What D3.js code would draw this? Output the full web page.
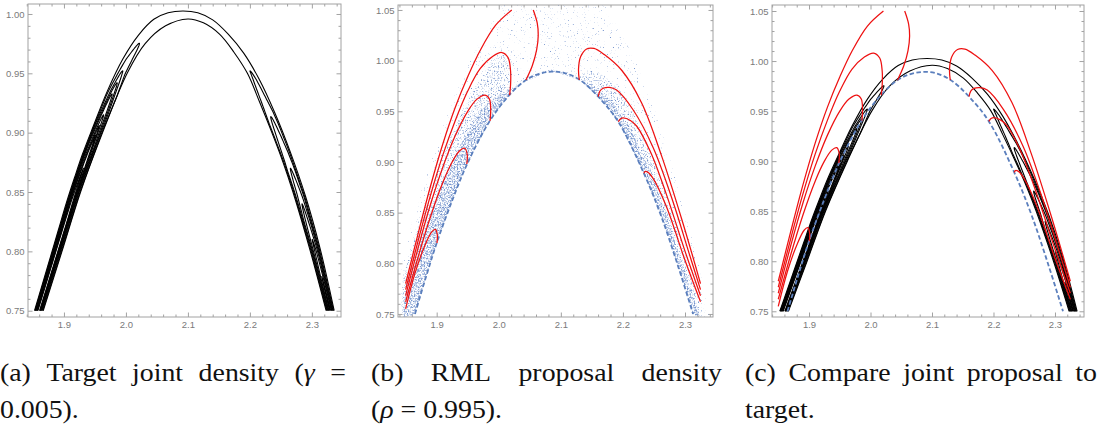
<!DOCTYPE html>
<html>
<head>
<meta charset="utf-8">
<script src="https://cdn.jsdelivr.net/npm/d3@7/dist/d3.min.js"></script>
<style>
  html, body { margin: 0; padding: 0; background: #fff; }
  svg { display: block; }
</style>
</head>
<body>
<svg id="fig" width="1100" height="426"></svg>
<script>
// ---------- axis ticks ----------
const xTicks = [1.9, 2.0, 2.1, 2.2, 2.3];
const yTicksTarget = [0.75, 0.80, 0.85, 0.90, 0.95, 1.00];
const yTicksProposal = [0.75, 0.80, 0.85, 0.90, 0.95, 1.00, 1.05];

// ---------- target joint density ----------
// outermost contour: upper edge of the ridge (left foot -> crest -> right foot)
const targetOuter = [
  [1.8525, 0.750], [1.865, 0.772], [1.878, 0.795], [1.891, 0.818], [1.904, 0.841],
  [1.917, 0.862], [1.930, 0.882], [1.947, 0.905], [1.970, 0.935], [1.995, 0.962],
  [2.020, 0.982], [2.045, 0.9955], [2.068, 1.001], [2.092, 1.0025], [2.116, 1.001],
  [2.140, 0.995], [2.165, 0.983], [2.190, 0.967], [2.215, 0.945], [2.240, 0.917],
  [2.265, 0.884], [2.290, 0.846], [2.313, 0.803], [2.336, 0.750]
];
// outermost contour: lower edge of the ridge
const targetInner = [
  [1.8665, 0.750], [1.8968, 0.800], [1.9268, 0.850], [1.9623, 0.900], [2.002, 0.950],
  [2.031, 0.975], [2.064, 0.990], [2.100, 0.9958], [2.125, 0.9925], [2.151, 0.983],
  [2.174, 0.968], [2.196, 0.950], [2.2155, 0.926], [2.2355, 0.900], [2.2535, 0.875],
  [2.2695, 0.850], [2.2976, 0.800], [2.323, 0.750]
];
// higher contour levels, nested inside the ridge on each limb:
// tip height, centre and half-width as fractions across the ridge (0 = upper edge, 1 = lower edge)
const targetTipsLeft   = [0.9753, 0.952, 0.942, 0.9326, 0.915, 0.906, 0.898, 0.870];
const targetCentreLeft = [0.50, 0.48, 0.48, 0.47, 0.47, 0.48, 0.48, 0.49];
const targetHalfLeft   = [0.44, 0.38, 0.33, 0.28, 0.23, 0.18, 0.14, 0.10];
const targetTipsRight   = [0.952, 0.9135, 0.870, 0.840, 0.810, 0.7787];
const targetCentreRight = [0.50, 0.50, 0.50, 0.50, 0.50, 0.50];
const targetHalfRight   = [0.42, 0.35, 0.28, 0.21, 0.15, 0.09];

// ---------- RML proposal density ----------
const proposalL1 = [[1.850,0.780],[1.870,0.829],[1.890,0.876],[1.910,0.918],[1.930,0.954],[1.950,0.984],[1.970,1.010],[1.995,1.035],[2.021,1.050]];
const proposalL2 = [[1.850,0.774],[1.870,0.822],[1.890,0.867],[1.910,0.907],[1.930,0.941],[1.950,0.970],[1.970,0.992],[1.990,1.004],[2.005,1.008],[2.015,1.003],[2.019,0.990],[2.019,0.976],[2.0175,0.966]];
const proposalL3 = [[1.850,0.768],[1.870,0.815],[1.890,0.858],[1.910,0.895],[1.930,0.926],[1.950,0.950],[1.965,0.962],[1.978,0.966],[1.985,0.962],[1.987,0.952],[1.986,0.9405]];
const proposalL4 = [[1.850,0.762],[1.870,0.806],[1.890,0.846],[1.910,0.880],[1.925,0.900],[1.937,0.911],[1.945,0.9135],[1.949,0.908],[1.9485,0.898]];
const proposalL5 = [[1.850,0.755],[1.865,0.790],[1.880,0.816],[1.892,0.831],[1.898,0.8335],[1.901,0.828],[1.9005,0.820]];
const proposalTop = [[2.0556,1.050],[2.062,1.037],[2.0636,1.025],[2.061,1.0105],[2.054,0.995],[2.0438,0.9809]];
const proposalR1 = [[2.1297,0.9809],[2.1285,0.992],[2.132,1.004],[2.1415,1.0115],[2.1535,1.012],[2.170,1.006],[2.198,0.9905],[2.230,0.9585],[2.262,0.9065],[2.295,0.843],[2.325,0.780]];
const proposalR2 = [[2.1603,0.9644],[2.163,0.970],[2.1683,0.9727],[2.178,0.9735],[2.1898,0.971],[2.2166,0.9513],[2.2488,0.914],[2.280,0.862],[2.305,0.813],[2.325,0.774]];
const proposalR3 = [[2.1925,0.9397],[2.196,0.9425],[2.2005,0.9435],[2.212,0.941],[2.222,0.9355],[2.245,0.909],[2.270,0.868],[2.300,0.812],[2.325,0.768]];
const proposalR4 = [[2.2338,0.8888],[2.2355,0.8905],[2.240,0.890],[2.2488,0.8835],[2.270,0.856],[2.300,0.803],[2.325,0.762]];
const proposalContours = [proposalL1, proposalL2, proposalL3, proposalL4, proposalL5, proposalTop, proposalR1, proposalR2, proposalR3, proposalR4];

// lower boundary of the proposal samples (dashed)
const proposalBoundary = [
  [1.865,0.750],[1.883,0.787],[1.900,0.820],[1.925,0.862],[1.9483,0.897],[1.9847,0.9397],
  [2.0169,0.966],[2.0438,0.9809],[2.065,0.987],[2.0852,0.9891],[2.105,0.988],[2.1308,0.9809],
  [2.1603,0.9644],[2.1925,0.9397],[2.2338,0.8888],[2.262,0.846],[2.290,0.795],[2.313,0.750]
];

// extent of the proposal samples at three densities (upper edge; the lower edge is the boundary above)
const samplesSparse = [[1.842,0.745],[1.842,0.800],[1.860,0.840],[1.885,0.890],[1.910,0.935],[1.935,0.975],[1.960,1.008],[1.985,1.035],[2.000,1.056],[2.170,1.056],[2.195,1.030],[2.225,0.995],[2.252,0.950],[2.278,0.900],[2.302,0.845],[2.322,0.800],[2.340,0.745]];
const samplesMedium = [[1.843,0.745],[1.845,0.785],[1.865,0.826],[1.890,0.872],[1.915,0.913],[1.940,0.948],[1.965,0.978],[1.990,1.000],[2.008,1.006],[2.018,0.992],[2.019,0.967],[2.040,0.983],[2.085,0.9915],[2.130,0.984],[2.150,0.990],[2.170,0.985],[2.195,0.970],[2.220,0.945],[2.245,0.910],[2.268,0.870],[2.292,0.825],[2.312,0.785],[2.330,0.745]];
const samplesDense = [[1.845,0.745],[1.850,0.772],[1.870,0.814],[1.895,0.860],[1.920,0.895],[1.945,0.925],[1.970,0.950],[1.990,0.962],[2.020,0.973],[2.085,0.9905],[2.150,0.976],[2.180,0.961],[2.210,0.935],[2.240,0.897],[2.265,0.857],[2.290,0.810],[2.312,0.770],[2.325,0.745]];

// ---------- captions ----------
const captionA = [["(a)", "Target", "joint", "density", "(γ", "="], "0.005)."];
const captionB = [["(b)", "RML", "proposal", "density"], "(ρ = 0.995)."];
const captionC = [["(c)", "Compare", "joint", "proposal", "to"], "target."];

// ---------- drawing ----------
const fig = d3.select("#fig");
const defs = fig.append("defs");

const FRAME = "#a2a2a2", LABEL = "#7a7a7a";
const RED = "#ee1111", BLUE = "#5b7fbd";

const xMinor = d3.range(92, 118).filter(i => i % 5 !== 0).map(i => i / 50);
const yMinor = d3.range(74, 106).filter(i => i % 5 !== 0).map(i => i / 100);

// speckle textures used to render the sample cloud
function addSpeckle(id, seed, threshold, gain) {
  const f = defs.append("filter").attr("id", id)
    .attr("x", 0).attr("y", 0).attr("width", 1).attr("height", 1)
    .attr("color-interpolation-filters", "sRGB");
  f.append("feTurbulence").attr("type", "fractalNoise").attr("baseFrequency", 0.7)
    .attr("numOctaves", 2).attr("seed", seed).attr("result", "noise");
  f.append("feColorMatrix").attr("in", "noise").attr("type", "matrix")
    .attr("values", `0 0 0 0 0.47  0 0 0 0 0.59  0 0 0 0 0.81  ${gain} 0 0 0 ${-gain * threshold}`)
    .attr("result", "dots");
  f.append("feComposite").attr("in", "dots").attr("in2", "SourceGraphic").attr("operator", "in");
}
addSpeckle("speckle-sparse", 7, 0.67, 5);
addSpeckle("speckle-medium", 19, 0.54, 4);
addSpeckle("speckle-dense", 31, 0.45, 3.5);

function limb(arc, side) {
  const peak = d3.maxIndex(arc, d => d[1]);
  return side === "left" ? arc.slice(0, peak + 1) : arc.slice(peak).reverse();
}
function xAt(pts, yv) {
  for (let i = 0; i < pts.length - 1; i++) {
    const [x0, y0] = pts[i], [x1, y1] = pts[i + 1];
    if (yv >= y0 && yv <= y1) return x0 + (x1 - x0) * (yv - y0) / (y1 - y0);
  }
  return yv < pts[0][1] ? pts[0][0] : pts[pts.length - 1][0];
}
// one nested contour level: a thin loop running along the ridge limb up to its tip
function levelLoop(tip, centre, half, side) {
  const outer = limb(targetOuter, side), inner = limb(targetInner, side);
  const base = 0.75, taper = 0.045, n = 70;
  const a = [], b = [];
  for (let i = n; i >= 0; i--) {
    const u = i / n;
    const yv = tip - (tip - base) * u * u;
    const w = half * Math.sqrt(Math.min(1, Math.max(0, tip - yv) / taper));
    const xo = xAt(outer, yv), xi = xAt(inner, yv);
    a.push([xo + (centre - w) * (xi - xo), yv]);
    b.push([xo + (centre + w) * (xi - xo), yv]);
  }
  return a.concat(b.reverse());
}
const targetLevels = [
  ...targetTipsLeft.map((t, i) => levelLoop(t, targetCentreLeft[i], targetHalfLeft[i], "left")),
  ...targetTipsRight.map((t, i) => levelLoop(t, targetCentreRight[i], targetHalfRight[i], "right"))
];

const panels = [
  { id: "a", frame: { l: 28, r: 341, t: 4, b: 317 }, xDomain: [1.842, 2.347], yDomain: [0.7447, 1.0084],
    yTicks: yTicksTarget, samples: false, target: true, proposal: false },
  { id: "b", frame: { l: 398, r: 713, t: 5, b: 317 }, xDomain: [1.8377, 2.3451], yDomain: [0.747, 1.0549],
    yTicks: yTicksProposal, samples: true, target: false, proposal: true },
  { id: "c", frame: { l: 772, r: 1084, t: 5, b: 317 }, xDomain: [1.8398, 2.3472], yDomain: [0.7443, 1.056],
    yTicks: yTicksProposal, samples: false, target: true, proposal: true }
];

function styleAxis(sel) {
  sel.select(".domain").remove();
  sel.selectAll(".tick line").attr("stroke", FRAME).attr("stroke-width", 1);
  sel.selectAll(".tick text").attr("fill", LABEL)
    .attr("font-family", '"Liberation Sans", Arial, sans-serif').attr("font-size", 9.5);
}

function drawPanel(p) {
  const { l, r, t, b } = p.frame;
  const x = d3.scaleLinear().domain(p.xDomain).range([l, r]);
  const y = d3.scaleLinear().domain(p.yDomain).range([b, t]);
  const g = fig.append("g").attr("id", "panel-" + p.id);

  defs.append("clipPath").attr("id", "clip-" + p.id)
    .append("rect").attr("x", l).attr("y", t).attr("width", r - l).attr("height", b - t);
  const plot = g.append("g").attr("clip-path", `url(#clip-${p.id})`);

  const straight = d3.line().x(d => x(d[0])).y(d => y(d[1]));
  const smooth = d3.line().x(d => x(d[0])).y(d => y(d[1])).curve(d3.curveCatmullRom.alpha(0.5));
  const closed = d3.line().x(d => x(d[0])).y(d => y(d[1])).curve(d3.curveLinearClosed);

  if (p.samples) {
    const lower = proposalBoundary.slice().reverse();
    [[samplesSparse, "speckle-sparse"], [samplesMedium, "speckle-medium"], [samplesDense, "speckle-dense"]]
      .forEach(([upper, filt]) => {
        plot.append("path").attr("d", closed(upper.concat(lower)))
          .attr("fill", "#000").attr("filter", `url(#${filt})`);
      });
  }

  if (p.target) {
    const tg = plot.append("g").attr("fill", "none").attr("stroke", "#000").attr("stroke-width", 1.1);
    tg.append("path").attr("d", smooth(targetOuter));
    tg.append("path").attr("d", smooth(targetInner));
    targetLevels.forEach(loop => tg.append("path").attr("d", straight(loop)));
  }

  if (p.proposal) {
    plot.append("path").attr("d", smooth(proposalBoundary))
      .attr("fill", "none").attr("stroke", BLUE).attr("stroke-width", 1.8)
      .attr("stroke-dasharray", "4.5,2.5");
    const rg = plot.append("g").attr("fill", "none").attr("stroke", RED).attr("stroke-width", 1.25);
    proposalContours.forEach(c => rg.append("path").attr("d", smooth(c)));
  }

  // frame with inward ticks on every side
  g.append("rect").attr("x", l).attr("y", t).attr("width", r - l).attr("height", b - t)
    .attr("fill", "none").attr("stroke", FRAME).attr("stroke-width", 1);

  g.append("g").attr("transform", `translate(0,${b})`)
    .call(d3.axisBottom(x).tickValues(xTicks).tickSize(-4.5).tickPadding(4).tickFormat(d3.format(".1f")))
    .call(styleAxis);
  g.append("g").attr("transform", `translate(0,${b})`)
    .call(d3.axisBottom(x).tickValues(xMinor).tickSize(-2.5).tickFormat(""))
    .call(styleAxis);
  g.append("g").attr("transform", `translate(0,${t})`)
    .call(d3.axisTop(x).tickValues(xTicks).tickSize(-4.5).tickFormat(""))
    .call(styleAxis);
  g.append("g").attr("transform", `translate(0,${t})`)
    .call(d3.axisTop(x).tickValues(xMinor).tickSize(-2.5).tickFormat(""))
    .call(styleAxis);

  const yMinorIn = yMinor.filter(v => v >= p.yDomain[0] && v <= p.yDomain[1]);
  g.append("g").attr("transform", `translate(${l},0)`)
    .call(d3.axisLeft(y).tickValues(p.yTicks).tickSize(-4.5).tickPadding(3.5).tickFormat(d3.format(".2f")))
    .call(styleAxis);
  g.append("g").attr("transform", `translate(${l},0)`)
    .call(d3.axisLeft(y).tickValues(yMinorIn).tickSize(-2.5).tickFormat(""))
    .call(styleAxis);
  g.append("g").attr("transform", `translate(${r},0)`)
    .call(d3.axisRight(y).tickValues(p.yTicks).tickSize(-4.5).tickFormat(""))
    .call(styleAxis);
  g.append("g").attr("transform", `translate(${r},0)`)
    .call(d3.axisRight(y).tickValues(yMinorIn).tickSize(-2.5).tickFormat(""))
    .call(styleAxis);
}
panels.forEach(drawPanel);

// ---------- captions (first line justified, second line ragged) ----------
const capFont = '"Liberation Serif", "Times New Roman", serif';
const capSize = 26;
const capStretch = 1.07;
const capG = fig.append("g").attr("font-family", capFont).attr("font-size", capSize).attr("fill", "#111");

function addRich(parent, str) {
  const t = parent.append("text");
  str.split(/([γρ])/).filter(s => s.length).forEach(s => {
    t.append("tspan").text(s).attr("font-style", /[γρ]/.test(s) ? "italic" : null);
  });
  const w = t.node().getComputedTextLength() * capStretch;
  t.attr("textLength", w).attr("lengthAdjust", "spacingAndGlyphs");
  return { sel: t, width: w };
}
function caption(lines, x0, x1, base1, base2) {
  const words = lines[0].map(w => addRich(capG, w));
  const gap = (x1 - x0 - d3.sum(words, w => w.width)) / (words.length - 1);
  let cx = x0;
  words.forEach(w => { w.sel.attr("x", cx).attr("y", base1); cx += w.width + gap; });
  const second = addRich(capG, lines[1]);
  second.sel.attr("x", x0).attr("y", base2);
}
caption(captionA, 0, 346, 381, 418);
caption(captionB, 371, 722, 381, 418);
caption(captionC, 745, 1097, 381, 418);
</script>
</body>
</html>
